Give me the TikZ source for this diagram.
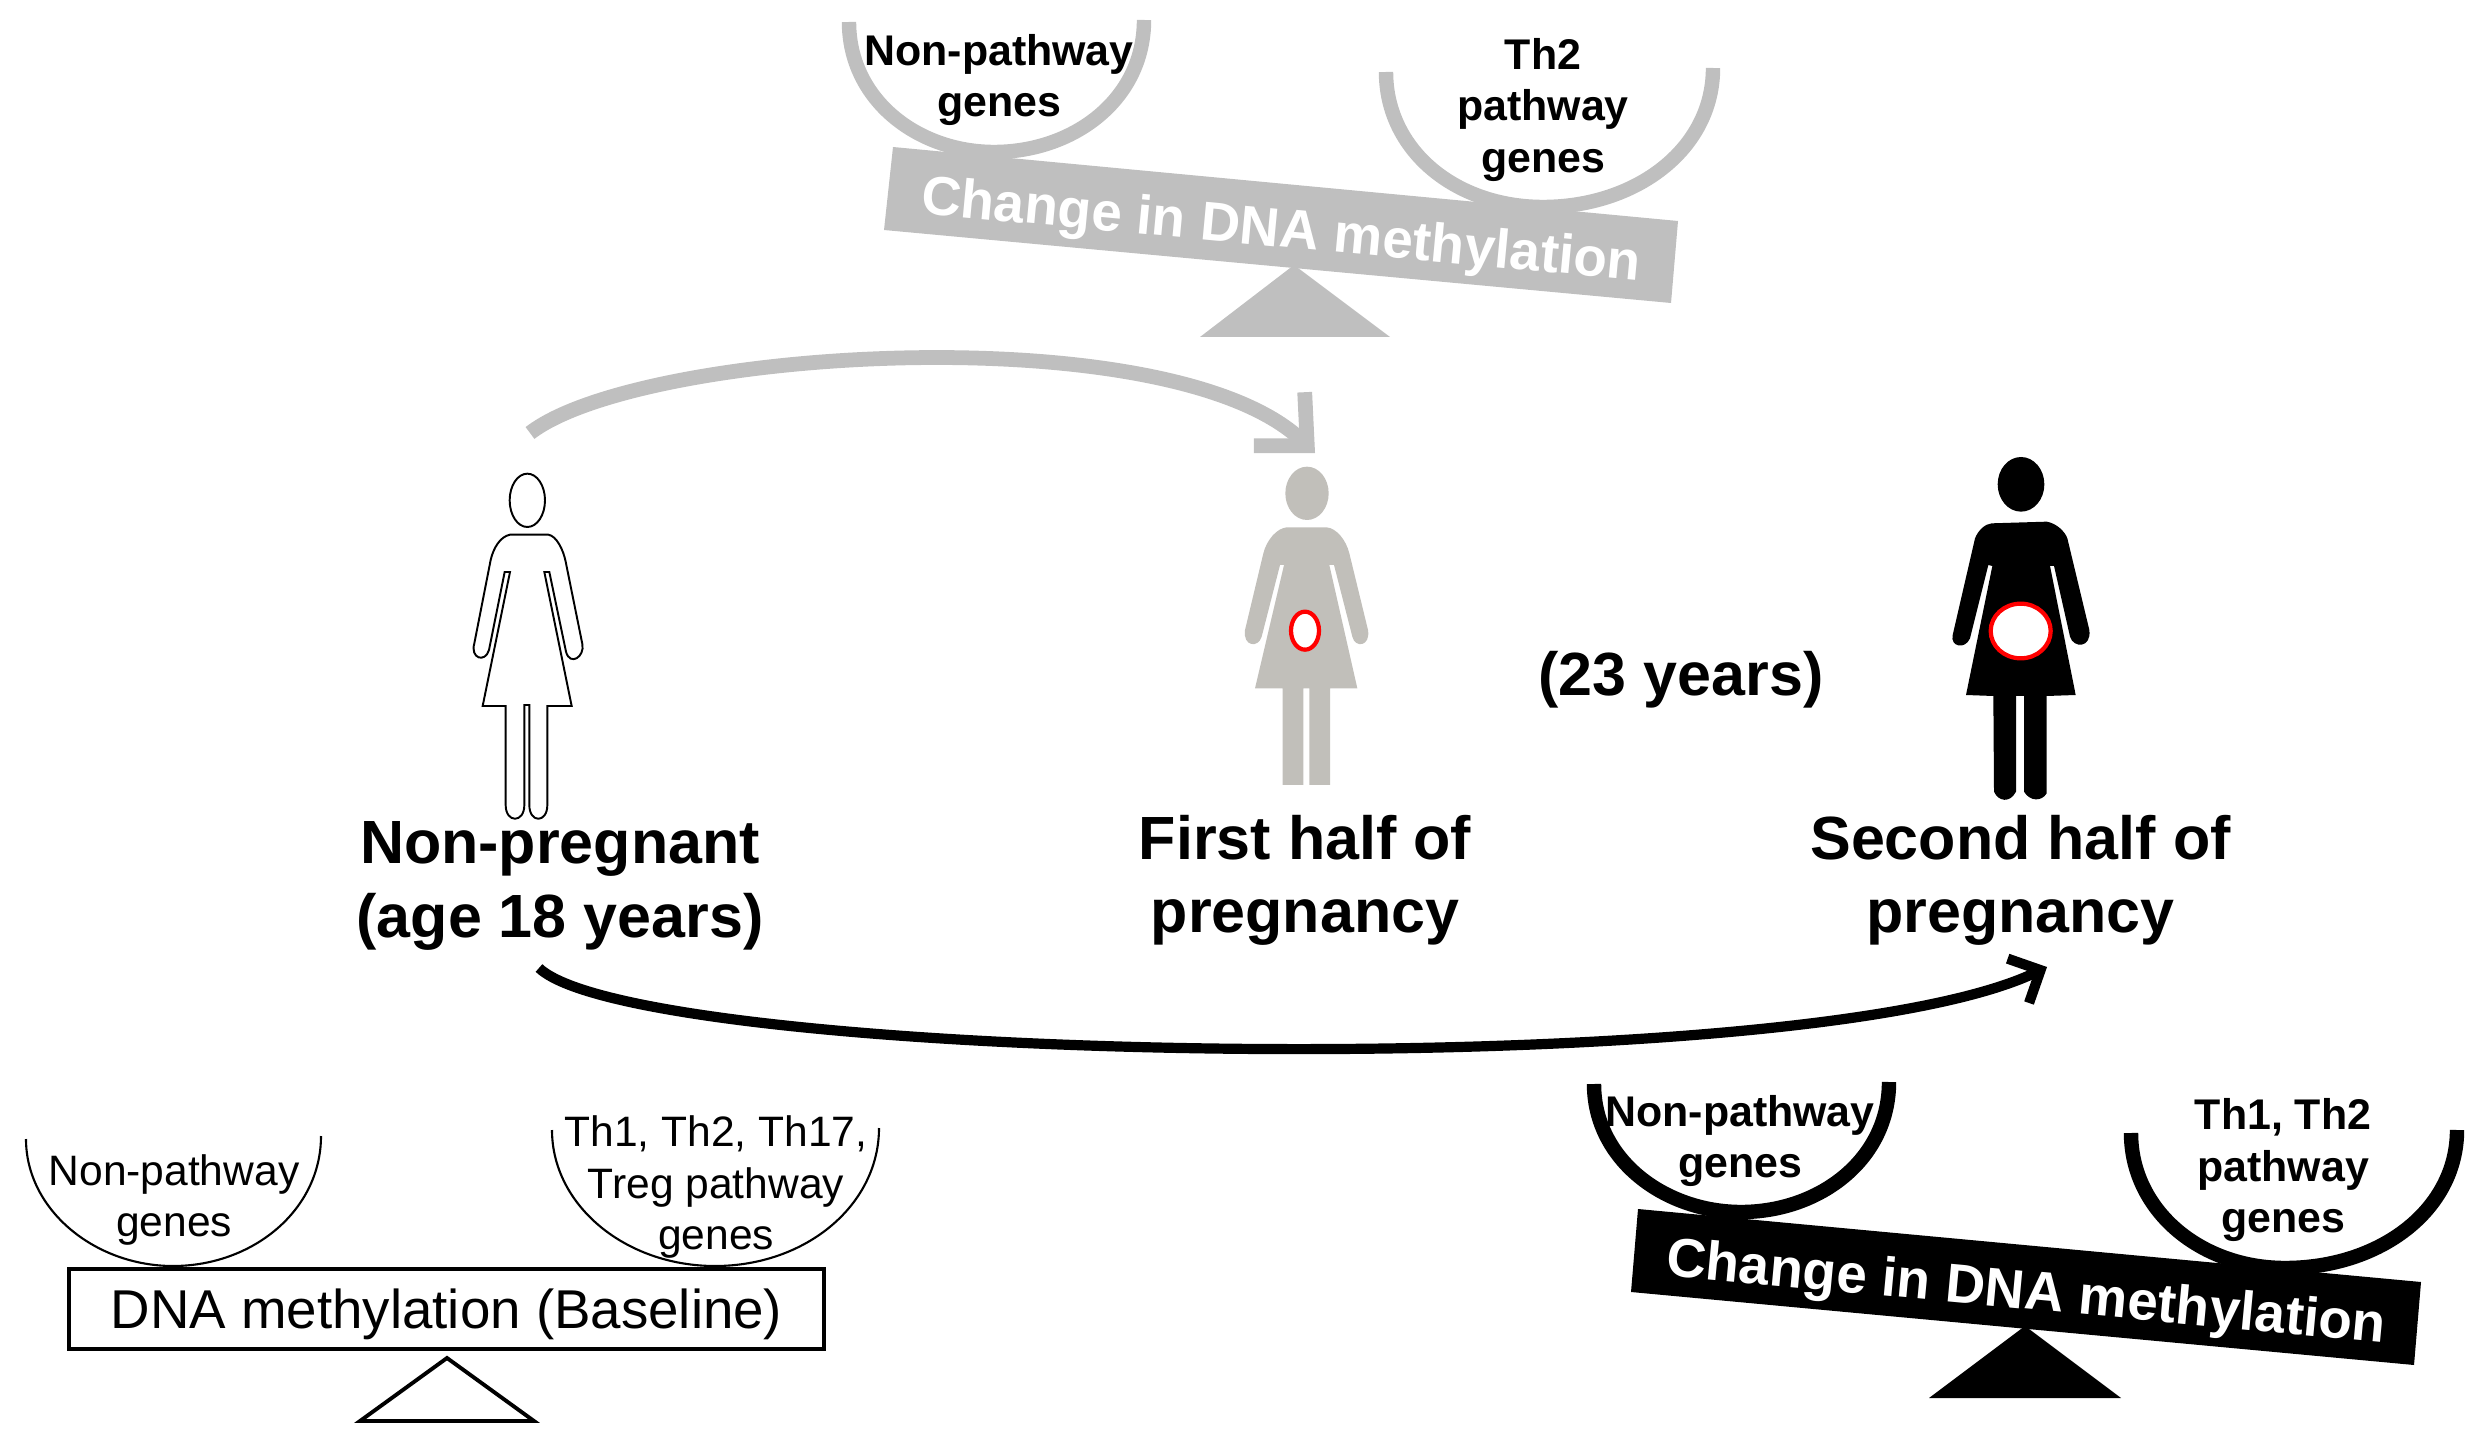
\documentclass[tikz,border=0pt]{standalone}
\usepackage{fontspec}
\setmainfont{Liberation Sans}
\usetikzlibrary{arrows.meta}
\definecolor{scalegrey}{HTML}{BFBFBF}
\definecolor{persongrey}{HTML}{C1BFBA}
\definecolor{bellyred}{HTML}{FF0000}
\tikzset{
  mainlabel/.style={align=center,inner sep=0pt,font=\fontsize{17.35pt}{20.8pt}\selectfont\bfseries},
  cuplabelb/.style={align=center,inner sep=0pt,font=\fontsize{12.2pt}{14.6pt}\selectfont\bfseries},
  cuplabelr/.style={align=center,inner sep=0pt,font=\fontsize{12.1pt}{14.6pt}\selectfont},
  beamlabel/.style={inner sep=0pt,text=white,rotate=-5.35,font=\fontsize{15.6pt}{18pt}\selectfont\bfseries},
  baselabel/.style={inner sep=0pt,font=\fontsize{15.55pt}{18pt}\selectfont},
  figscope/.style={scale=1/3},
  belly/.style={fill=white,draw=bellyred,line width=1.2pt},
}
\begin{document}
\begin{tikzpicture}[x=0.01cm,y=-0.01cm]
\useasboundingbox (0,0) rectangle (2485,1455);

% ---------- top grey balance
\fill[scalegrey] (893,147) -- (1678,221) -- (1671,303) -- (884,230) -- cycle;
\fill[scalegrey] (1294,265) -- (1390,337) -- (1200,337) -- cycle;
\draw[scalegrey,line width=4.1pt] (849,22) .. controls (849,100) and (918,152) .. (994,152) .. controls (1073,152) and (1144,100) .. (1144,20);
\draw[scalegrey,line width=4.1pt] (1386,72) .. controls (1386,150) and (1455,207) .. (1543,207) .. controls (1635,207) and (1713,150) .. (1713,68);
\node[beamlabel] (b1) at (1281,233) {Change in DNA methylation};
\node[cuplabelb] (c1) at (999,80) {Non-pathway\\genes};
\node[cuplabelb] (c2) at (1543,110) {Th2\\pathway\\genes};

% ---------- bottom left baseline balance
\draw[line width=0.6pt] (26,1139) .. controls (26,1210) and (95,1266) .. (173,1266) .. controls (253,1266) and (321,1210) .. (321,1136);
\draw[line width=0.6pt] (552,1130) .. controls (552,1205) and (625,1266) .. (715,1266) .. controls (806,1266) and (879,1205) .. (879,1128);
\node[draw,line width=1.1pt,minimum width=755*0.01cm,minimum height=80*0.01cm,inner sep=0pt,baselabel,text height=11.1pt,text depth=0pt] (b0) at (446.5,1309) {DNA methylation (Baseline)};
\draw[line width=1.1pt,line join=miter] (447,1358) -- (534,1421) -- (360,1421) -- cycle;
\node[cuplabelr] (c3) at (174,1200) {Non-pathway\\genes};
\node[cuplabelr] (c4) at (716,1187) {Th1, Th2, Th17,\\Treg pathway\\genes};

% ---------- bottom right black balance
\fill (1638,1209) -- (2421,1282) -- (2414,1365) -- (1631,1292) -- cycle;
\fill (2025,1326) -- (2121,1398) -- (1929,1398) -- cycle;
\draw[line width=4.1pt] (1594,1084) .. controls (1594,1160) and (1665,1212) .. (1741,1212) .. controls (1819,1212) and (1889,1160) .. (1889,1082);
\draw[line width=4.1pt] (2131,1133) .. controls (2131,1210) and (2200,1268) .. (2285,1268) .. controls (2380,1268) and (2457,1210) .. (2457,1130);
\node[beamlabel] (b2) at (2026,1295) {Change in DNA methylation};
\node[cuplabelb] (c5) at (1740,1141) {Non-pathway\\genes};
\node[cuplabelb] (c6) at (2283,1170) {Th1, Th2\\pathway\\genes};

% ---------- person 1: outline
\begin{scope}[shift={(420,440)},figscope]
\draw[line width=0.55pt,fill=white] (322,181) ellipse [x radius=53,y radius=80];
\draw[line width=0.55pt,fill=white,line join=miter]
  (270,284) -- (385,284) .. controls (410,288) and (430,330) .. (437,365)
  -- (487,612) .. controls (495,650) and (450,680) .. (438,635)
  -- (388,396) -- (373,396) -- (455,798) -- (382,798) -- (382,1095)
  .. controls (382,1150) and (328,1150) .. (328,1095) -- (328,795) -- (313,795) -- (313,1095)
  .. controls (313,1150) and (257,1150) .. (257,1095) -- (257,798) -- (188,798)
  -- (270,396) -- (254,396) -- (207,630)
  .. controls (195,670) and (150,655) .. (163,610)
  -- (212,360) .. controls (220,325) and (240,290) .. (270,284) -- cycle;
\end{scope}

% ---------- person 2: grey
\begin{scope}[shift={(1220,440)},figscope]
\fill[persongrey] (261,160) ellipse [x radius=65,y radius=80];
\fill[persongrey,line join=round]
  (200,262) -- (320,262) .. controls (350,265) and (378,300) .. (388,340)
  -- (444,570) .. controls (452,620) and (405,625) .. (397,590)
  -- (342,375) -- (328,375) -- (412,745) -- (330,745) -- (330,1035) -- (268,1035) -- (268,745)
  -- (250,745) -- (250,1035) -- (188,1035) -- (188,745) -- (105,745)
  -- (192,375) -- (180,375) -- (125,590)
  .. controls (115,625) and (68,620) .. (75,570)
  -- (130,340) .. controls (140,300) and (170,265) .. (200,262) -- cycle;
\draw[belly] (255,572) ellipse [x radius=42,y radius=57];
\end{scope}

% ---------- person 3: black
\begin{scope}[shift={(1930,440)},figscope]
\fill (273,133) ellipse [x radius=70,y radius=82];
\fill[line join=round]
  (185,250) -- (350,245) .. controls (380,250) and (405,275) .. (412,295)
  -- (478,570) .. controls (485,625) and (430,625) .. (420,590)
  -- (372,378) -- (360,378) -- (437,765) -- (350,768) -- (350,1060)
  .. controls (335,1085) and (300,1085) .. (282,1055) -- (282,768) -- (258,768) -- (258,1055)
  .. controls (240,1090) and (205,1085) .. (192,1055) -- (190,768) -- (108,765)
  -- (187,378) -- (175,375) -- (120,595)
  .. controls (105,630) and (60,620) .. (68,585)
  -- (135,295) .. controls (145,270) and (165,252) .. (185,250) -- cycle;
\draw[belly] (272,573) ellipse [x radius=90,y radius=82];
\end{scope}

% ---------- labels
\node[mainlabel] (np) at (560,886) {Non-pregnant\\(age 18 years)};
\node[mainlabel] (fh) at (1305,880) {First half of\\pregnancy};
\node[mainlabel] (sh) at (2020.5,880) {Second half of\\pregnancy};
\node[mainlabel] (yr) at (1681,680) {(23 years)};

% ---------- connectors
\coordinate (gs) at (530,433);
\coordinate (gt) at (1315,453);
\coordinate (ks) at (539,968);
\coordinate (kt) at (2047,967);
\draw[scalegrey,line width=4.2pt,-{Straight Barb[length=11pt,width=21pt,line width=4.2pt]}]
  (gs) .. controls (640,348) and (1170,315) .. (gt);
\draw[line width=2.9pt,-{Straight Barb[length=7pt,width=14pt,line width=2.9pt]}]
  (ks) .. controls (640,1064) and (1800,1086) .. (kt);
\end{tikzpicture}
\end{document}
